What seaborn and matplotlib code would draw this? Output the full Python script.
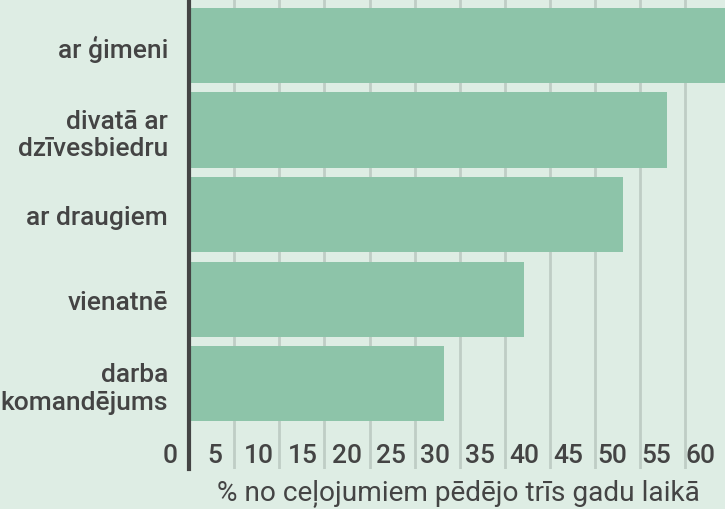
import matplotlib
matplotlib.use("Agg")
import matplotlib.pyplot as plt
import matplotlib.transforms as mtransforms
import seaborn as sns
import pandas as pd

categories = ["ar ģimeni", "divatā ar\ndzīvesbiedru", "ar draugiem", "vienatnē", "darba\nkomandējums"]
values = [62.0, 53.0, 48.1, 37.1, 28.2]
tick_values = [0, 5, 10, 15, 20, 25, 30, 35, 40, 45, 50, 55, 60]
grid_values = [5, 10, 15, 20, 25, 30, 35, 40, 45, 50, 55]
x_label = "% no ceļojumiem pēdējo trīs gadu laikā"

BG = "#deede4"
BAR = "#8dc4a9"
GRID = "#bfcdc5"
TXT = "#444444"
FS = 19
FW = "medium"

sns.set_theme(style="white")
plt.rcParams["font.family"] = ["Roboto", "DejaVu Sans"]

df = pd.DataFrame({"cat": categories, "val": values})

fig = plt.figure(figsize=(7.25, 5.10), dpi=100, facecolor=BG)
ax = fig.add_axes([189 / 725, 1 - 470 / 510, 1 - 189 / 725 + 0.01, 470 / 510])
ax.set_facecolor(BG)

sns.barplot(data=df, x="val", y="cat", orient="h", color=BAR, saturation=1,
            width=0.888, linewidth=0, ax=ax, zorder=2)

# gridlines
ax.set_xticks(grid_values)
ax.set_xticklabels([])
ax.grid(axis="x", which="major", color=GRID, linewidth=2.0, zorder=1)
ax.set_axisbelow(True)
ax.grid(axis="y", visible=False)
ax.tick_params(axis="x", which="both", length=0)

ax.set_xlim(0, (725 - 189) / 8.98 + 0.5)
ax.set_ylim(5.01, -0.55)

# tick labels (slightly offset from gridlines as in the reference)
trans = mtransforms.blended_transform_factory(ax.transData, ax.transAxes)
for v in tick_values:
    ax.text(0.98 * v - 2.1, 7 / 470, str(v), transform=trans, ha="center",
            va="baseline", fontsize=FS, fontweight=FW, color=TXT, clip_on=False,
            zorder=6)

ax.tick_params(axis="y", length=0, pad=15, labelsize=FS, labelcolor=TXT)
for t in ax.get_yticklabels():
    t.set_linespacing(1.2)
    t.set_horizontalalignment("right")
    t.set_fontweight(FW)

for s in ["top", "right", "bottom"]:
    ax.spines[s].set_visible(False)
ax.spines["left"].set_color(TXT)
ax.spines["left"].set_linewidth(3.0)
ax.spines["left"].set_zorder(5)

ax.set_ylabel("")
ax.set_xlabel(x_label, fontsize=20.2, color=TXT)
ax.xaxis.set_label_coords((458 - 189) / (725 - 189 + 7.25), -0.019)
ax.xaxis.label.set_verticalalignment("top")

fig.savefig("out.png", dpi=100, facecolor=BG)
